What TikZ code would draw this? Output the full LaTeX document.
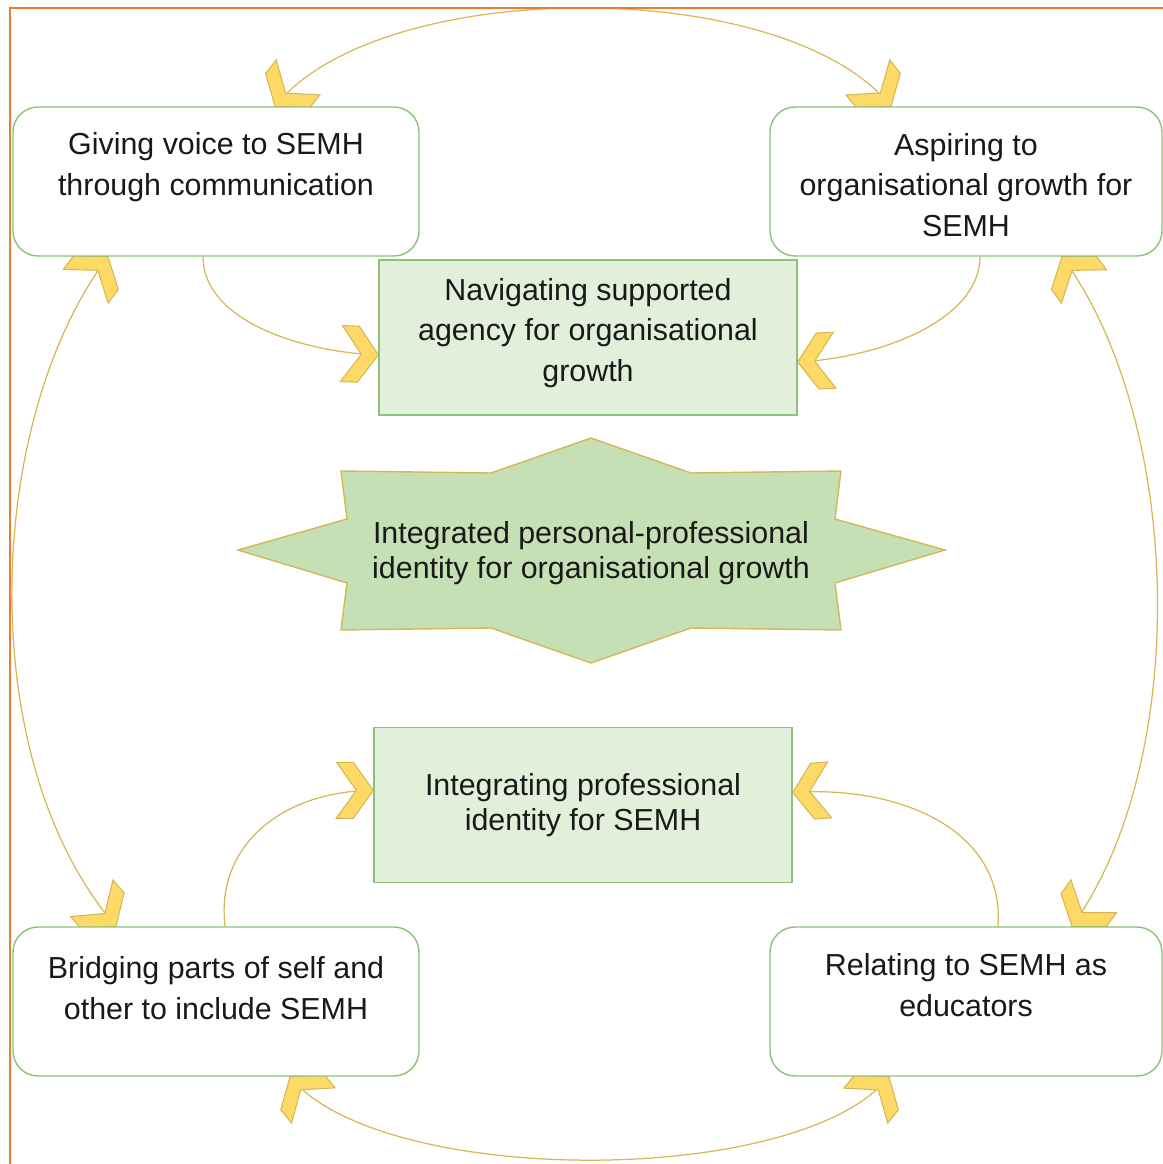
\documentclass[tikz,border=0pt]{standalone}
\usepackage{fontspec}
\setmainfont{Liberation Sans}
\usetikzlibrary{backgrounds,decorations.markings}

\definecolor{frameorange}{HTML}{ED7D31}
\definecolor{linegold}{HTML}{D6B656}
\definecolor{chevyellow}{HTML}{FFD966}
\definecolor{boxgreen}{HTML}{8CC277}
\definecolor{palegreen}{HTML}{E2EFDA}
\definecolor{stargreen}{HTML}{C5E0B4}

\begin{document}
\begin{tikzpicture}[x=0.02cm, y=-0.02cm,
  every node/.style={font=\fontsize{17.3}{23.2}\selectfont, align=center, text=black!90},
  card/.style={draw=boxgreen, line width=0.8pt, fill=white, rounded corners=0.5cm, minimum height=2.98cm},
  plain/.style={draw=boxgreen, line width=0.8pt, fill=palegreen, minimum width=8.36cm, minimum height=3.1cm},
  tight/.style={font=\fontsize{17.3}{19.9}\selectfont},
  starshape/.style={draw=linegold, line width=0.8pt, fill=stargreen},
  link/.style={draw=linegold, line width=0.7pt},
  chev/.style={draw=linegold, fill=chevyellow, line width=0.6pt, line join=miter},
  chev end/.style={postaction={decorate, decoration={markings, mark=at position 0.9999 with {\draw[chev] (0,0) -- (-20,28) -- (-37,28) -- (-17,0) -- (-37,-28) -- (-20,-28) -- cycle;}}}},
  chev start/.style={postaction={decorate, decoration={markings, mark=at position 0 with {\draw[chev] (0,0) -- (20,28) -- (37,28) -- (17,0) -- (37,-28) -- (20,-28) -- cycle;}}}}
]
\useasboundingbox (0,0) rectangle (1163,1164);
\draw[frameorange, line width=1pt] (1163,8) -- (10,8) -- (10,1164);

\node[card, minimum width=8.12cm] (voice) at (216,181.5) {};
\node (voice-t) at (216,167) {Giving voice to SEMH\\through communication};
\node[card, minimum width=7.84cm] (aspire) at (966,181.5) {};
\node (aspire-t) at (966,185) {Aspiring to\\organisational growth for\\SEMH};

\node[plain] (navigate) at (588,337.5) {};
\node (navigate-t) at (588,333) {Navigating supported\\agency for organisational\\growth};

\draw[starshape] (341,471) -- (491,473) -- (591,438) -- (691,473) -- (841,471) -- (835,519) -- (945,550) -- (835,583) -- (841,630) -- (691,628) -- (591,663) -- (491,628) -- (341,630) -- (347,583) -- (238,550) -- (347,519) -- cycle;
\node[tight] (core) at (591,553) {Integrated personal-professional\\identity for organisational growth};

\node[plain, tight] (integrate) at (583,805) {Integrating professional\\identity for SEMH};

\node[card, minimum width=8.12cm] (bridge) at (216,1001.5) {};
\node (bridge-t) at (216,988) {Bridging parts of self and\\other to include SEMH};
\node[card, minimum width=7.84cm] (relate) at (966,1001.5) {};
\node (relate-t) at (966,985) {Relating to SEMH as\\educators};

\begin{scope}[on background layer]
\draw[link, chev start, chev end] ([xshift=1.18cm]voice.north) .. controls (380,-25) and (786,-25) .. ([xshift=-1.5cm]aspire.north);
\draw[link, chev start, chev end] ([xshift=-2.16cm]voice.south) .. controls (-15,420) and (-28,760) .. ([xshift=-2cm]bridge.north);
\draw[link, chev start, chev end] ([xshift=1.92cm]aspire.south) .. controls (1183,420) and (1192,760) .. ([xshift=2.12cm]relate.north);
\draw[link, chev start, chev end] ([xshift=1.48cm]bridge.south) .. controls (380,1188) and (800,1188) .. ([xshift=-1.54cm]relate.south);
\draw[link, chev end] ([xshift=-0.26cm]voice.south) .. controls (203,320) and (300,352) .. ([yshift=-0.35cm]navigate.west);
\draw[link, chev end] ([xshift=0.28cm]aspire.south) .. controls (980,320) and (880,358) .. ([yshift=-0.49cm]navigate.east);
\draw[link, chev end] ([xshift=0.18cm]bridge.north) .. controls (215,840) and (290,790) .. ([yshift=0.29cm]integrate.west);
\draw[link, chev end] ([xshift=0.64cm]relate.north) .. controls (1005,830) and (900,785) .. ([yshift=0.25cm]integrate.east);
\end{scope}
\end{tikzpicture}
\end{document}
